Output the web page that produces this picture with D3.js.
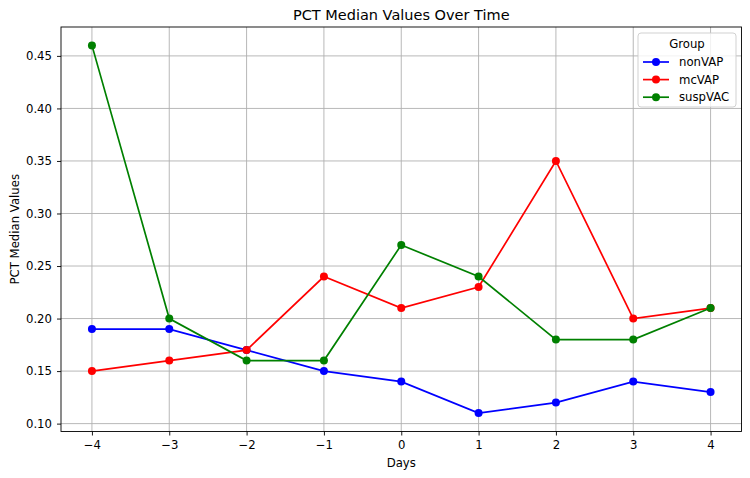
<!DOCTYPE html>
<html>
<head>
<meta charset="utf-8">
<script src="https://cdn.jsdelivr.net/npm/d3@7"></script>
<style>
body { margin: 0; background: #fff; }
text { font-family: "DejaVu Sans", sans-serif; fill: #000; }
</style>
</head>
<body>
<svg id="chart" width="750" height="478"></svg>
<script>
// data
var days = [-4, -3, -2, -1, 0, 1, 2, 3, 4];
var nonVAP = [0.19, 0.19, 0.17, 0.15, 0.14, 0.11, 0.12, 0.14, 0.13];
var mcVAP = [0.15, 0.16, 0.17, 0.24, 0.21, 0.23, 0.35, 0.20, 0.21];
var suspVAC = [0.46, 0.20, 0.16, 0.16, 0.27, 0.24, 0.18, 0.18, 0.21];
var groupNames = ["nonVAP", "mcVAP", "suspVAC"];
var groupColors = ["#0000ff", "#ff0000", "#008000"];
var yTicks = [0.10, 0.15, 0.20, 0.25, 0.30, 0.35, 0.40, 0.45];

var series = [nonVAP, mcVAP, suspVAC];
var box = {left: 61, right: 741.5, top: 27, bottom: 431.5};
var fs = "11.7px";

var svg = d3.select("#chart");

var x = d3.scaleLinear().domain([-4.4, 4.4]).range([box.left, box.right]);
var y = d3.scaleLinear().domain([0.0925, 0.4775]).range([box.bottom, box.top]);

// grid
svg.append("g")
   .selectAll("line")
   .data(days)
   .enter()
   .append("line")
   .attr("x1", function(d) { return x(d); })
   .attr("x2", function(d) { return x(d); })
   .attr("y1", box.top)
   .attr("y2", box.bottom)
   .style("stroke", "#b0b0b0")
   .style("stroke-width", 0.9);

svg.append("g")
   .selectAll("line")
   .data(yTicks)
   .enter()
   .append("line")
   .attr("x1", box.left)
   .attr("x2", box.right)
   .attr("y1", function(d) { return y(d); })
   .attr("y2", function(d) { return y(d); })
   .style("stroke", "#b0b0b0")
   .style("stroke-width", 0.9);

// axes
var xAxis = svg.append("g")
   .attr("transform", "translate(0," + box.bottom + ")")
   .call(d3.axisBottom(x).tickValues(days).tickSizeOuter(0).tickSize(4).tickPadding(5)
        .tickFormat(function(d) { return d < 0 ? "\u2212" + Math.abs(d) : d; }));

var yAxis = svg.append("g")
   .attr("transform", "translate(" + box.left + ",0)")
   .call(d3.axisLeft(y).tickValues(yTicks).tickSizeOuter(0).tickSize(4).tickPadding(5)
        .tickFormat(d3.format(".2f")));

[xAxis, yAxis].forEach(function(a) {
  a.select(".domain").remove();
  a.selectAll("line").style("stroke", "#000").style("stroke-width", 0.9);
  a.selectAll("text").style("font-size", fs).style("font-family", "DejaVu Sans");
});

// frame
svg.append("rect")
   .attr("x", box.left)
   .attr("y", box.top)
   .attr("width", box.right - box.left)
   .attr("height", box.bottom - box.top)
   .style("fill", "none")
   .style("stroke", "#000")
   .style("stroke-width", 0.9);

// lines + markers
var line = d3.line()
   .x(function(d, i) { return x(days[i]); })
   .y(function(d) { return y(d); });

series.forEach(function(vals, k) {
  svg.append("path")
     .datum(vals)
     .attr("d", line)
     .style("fill", "none")
     .style("stroke", groupColors[k])
     .style("stroke-width", 1.7);
  svg.append("g")
     .selectAll("circle")
     .data(vals)
     .enter()
     .append("circle")
     .attr("cx", function(d, i) { return x(days[i]); })
     .attr("cy", function(d) { return y(d); })
     .attr("r", 4)
     .style("fill", groupColors[k]);
});

// titles
svg.append("text")
   .attr("x", (box.left + box.right) / 2)
   .attr("y", 20)
   .attr("text-anchor", "middle")
   .style("font-size", "14.5px")
   .text("PCT Median Values Over Time");

svg.append("text")
   .attr("x", (box.left + box.right) / 2)
   .attr("y", 467)
   .attr("text-anchor", "middle")
   .style("font-size", fs)
   .text("Days");

svg.append("text")
   .attr("transform", "translate(19," + ((box.top + box.bottom) / 2) + ") rotate(-90)")
   .attr("text-anchor", "middle")
   .style("font-size", fs)
   .text("PCT Median Values");

// legend
var lg = svg.append("g").attr("transform", "translate(638,33)");
lg.append("rect")
  .attr("width", 98)
  .attr("height", 74)
  .attr("rx", 3)
  .style("fill", "#fff")
  .style("fill-opacity", 0.8)
  .style("stroke", "#cccccc")
  .style("stroke-width", 0.9);
lg.append("text")
  .attr("x", 49)
  .attr("y", 15)
  .attr("text-anchor", "middle")
  .style("font-size", fs)
  .text("Group");
groupNames.forEach(function(name, k) {
  var yy = 29 + k * 17.6;
  lg.append("line")
    .attr("x1", 5).attr("x2", 31)
    .attr("y1", yy).attr("y2", yy)
    .style("stroke", groupColors[k])
    .style("stroke-width", 1.7);
  lg.append("circle")
    .attr("cx", 18).attr("cy", yy).attr("r", 4)
    .style("fill", groupColors[k]);
  lg.append("text")
    .attr("x", 41)
    .attr("y", yy + 4)
    .style("font-size", fs)
    .text(name);
});
</script>
</body>
</html>
